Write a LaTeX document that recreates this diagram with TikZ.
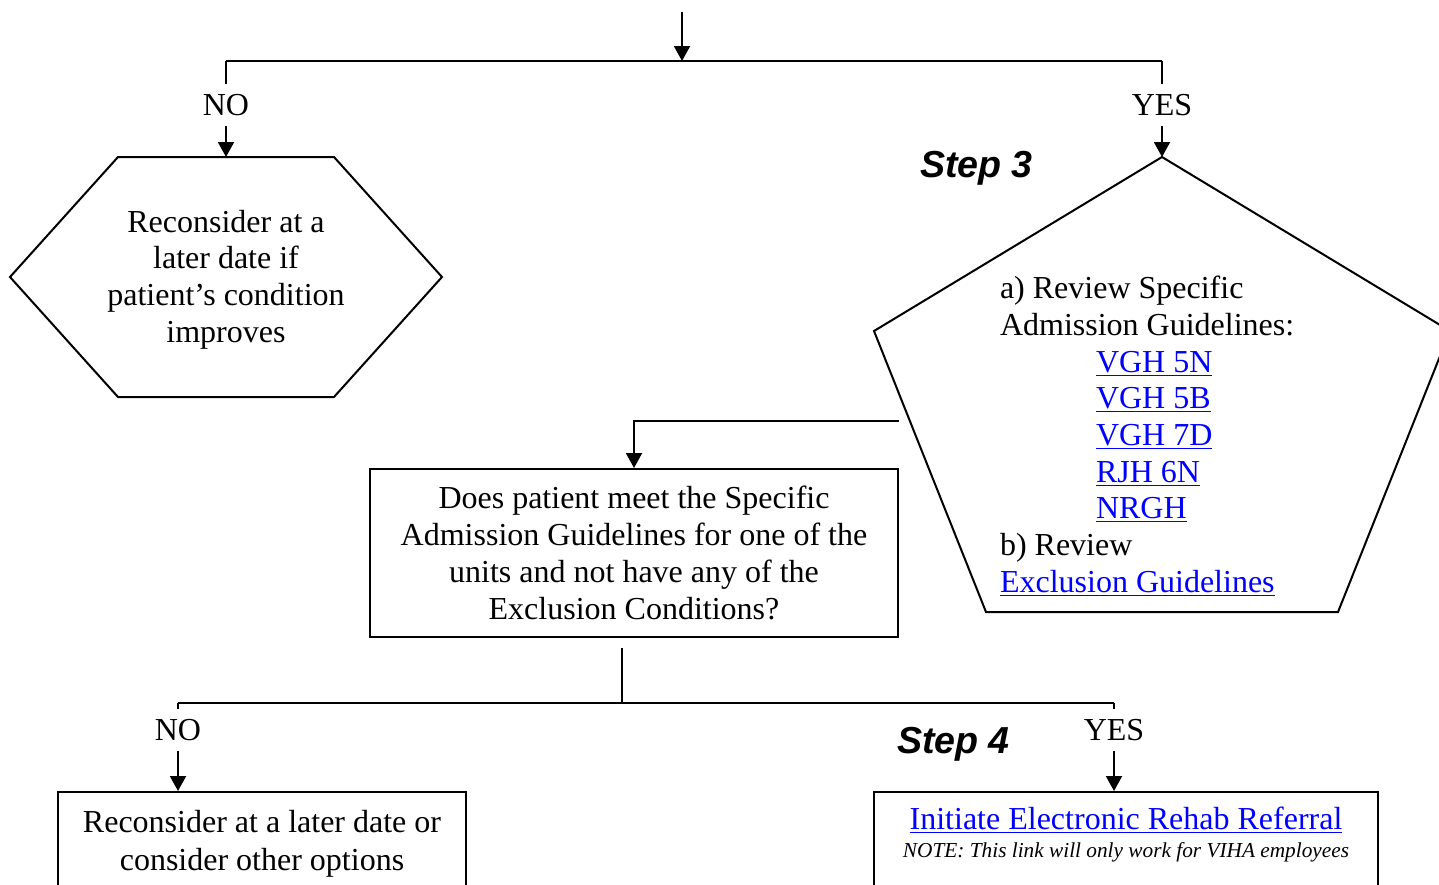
\documentclass[tikz,border=0pt]{standalone}
\usepackage{fontspec}
\setmainfont{Liberation Serif}
\newfontfamily\stepfont{Liberation Sans}
\usetikzlibrary{arrows.meta}
\definecolor{linkblue}{RGB}{0,0,255}
\newcommand{\lnk}[1]{\textcolor{linkblue}{\underline{#1}}}
\begin{document}
\begin{tikzpicture}[x=0.5pt,y=-0.5pt,
  line width=1pt,
  arr/.style={-{Triangle[length=7.5pt,width=8pt]}},
  lbl/.style={font=\fontsize{16}{18.4}\selectfont, inner sep=0pt, minimum height=20pt},
  btxt/.style={font=\fontsize{16}{18.4}\selectfont, inner sep=0pt, anchor=base},
  ltxt/.style={font=\fontsize{16}{18.4}\selectfont, inner sep=0pt, anchor=base west},
  steplbl/.style={font=\stepfont\bfseries\itshape\fontsize{18.8}{20}\selectfont, inner sep=0pt, anchor=base west},
  box/.style={draw, rectangle, inner sep=0pt},
]
\useasboundingbox (0,0) rectangle (1439,884);
\clip (0,0) rectangle (1439,884);

% top branch
\coordinate (topin) at (682,12);
\coordinate (topj) at (682,61);
\coordinate (tl) at (226,61);
\coordinate (tr) at (1162,61);
\draw[arr] (topin) -- (topj);
\draw (tl) -- (tr);
\node[lbl] (no1) at (226,105) {NO};
\node[lbl] (yes1) at (1162,105) {YES};
\draw (tl) -- (no1.north);
\draw (tr) -- (yes1.north);

% hexagon
\draw (118,157) -- (334,157) -- (442,277) -- (334,397) -- (118,397) -- (10,277) -- cycle;
\coordinate (hextop) at (226,157);
\draw[arr] (no1.south) -- (hextop);
\node[btxt] (h1) at (226,232) {Reconsider at a};
\node[btxt] (h2) at (226,268) {later date if};
\node[btxt] (h3) at (226,305) {patient’s condition};
\node[btxt] (h4) at (226,342) {improves};

% pentagon
\draw (1162,157) -- (1450,331) -- (1338,612) -- (986,612) -- (874,331) -- cycle;
\coordinate (pentop) at (1162,157);
\draw[arr] (yes1.south) -- (pentop);
\node[steplbl] (step3) at (919,177) {Step 3};
\node[ltxt] (p1) at (999,298) {a) Review Specific};
\node[ltxt] (p2) at (999,335) {Admission Guidelines:};
\node[ltxt] (p3) at (1095,372) {\lnk{VGH 5N}};
\node[ltxt] (p4) at (1095,408) {\lnk{VGH 5B}};
\node[ltxt] (p5) at (1095,445) {\lnk{VGH 7D}};
\node[ltxt] (p6) at (1095,482) {\lnk{RJH 6N}};
\node[ltxt] (p7) at (1095,518) {\lnk{NRGH}};
\node[ltxt] (p8) at (999,555) {b) Review};
\node[ltxt] (p9) at (999,592) {\lnk{Exclusion Guidelines}};

% decision box
\coordinate (pentout) at (899,421);
\coordinate (bend) at (634,421);
\node[box, minimum width=264pt, minimum height=84pt] (dec) at (634,553) {};
\draw[arr] (pentout) -- (bend) -- (dec.north);
\node[btxt] (d1) at (634,508) {Does patient meet the Specific};
\node[btxt] (d2) at (634,545) {Admission Guidelines for one of the};
\node[btxt] (d3) at (634,582) {units and not have any of the};
\node[btxt] (d4) at (634,619) {Exclusion Conditions?};

% bottom branch
\coordinate (decout) at (622,648);
\coordinate (bj) at (622,703);
\coordinate (bl) at (178,703);
\coordinate (br) at (1114,703);
\draw (decout) -- (bj);
\draw (bl) -- (br);
\node[lbl] (no2) at (178,730) {NO};
\node[lbl] (yes2) at (1114,730) {YES};
\draw (bl) -- (no2.north);
\draw (br) -- (yes2.north);

\node[box, minimum width=204pt, minimum height=70pt, anchor=north] (bl box) at (262,791) {};
\draw[arr] (no2.south) -- (bl box.north -| no2.south);
\node[btxt] (b1) at (262,832) {Reconsider at a later date or};
\node[btxt] (b2) at (262,870) {consider other options};

\node[box, minimum width=252pt, minimum height=70pt, anchor=north] (br box) at (1126,791) {};
\draw[arr] (yes2.south) -- (br box.north -| yes2.south);
\node[steplbl] (step4) at (896,753) {Step 4};
\node[btxt] (r1) at (1126,829) {\lnk{Initiate Electronic Rehab Referral}};
\node[btxt, font=\itshape\fontsize{10.65}{12}\selectfont] (r2) at (1126,857) {NOTE: This link will only work for VIHA employees};
\end{tikzpicture}
\end{document}
